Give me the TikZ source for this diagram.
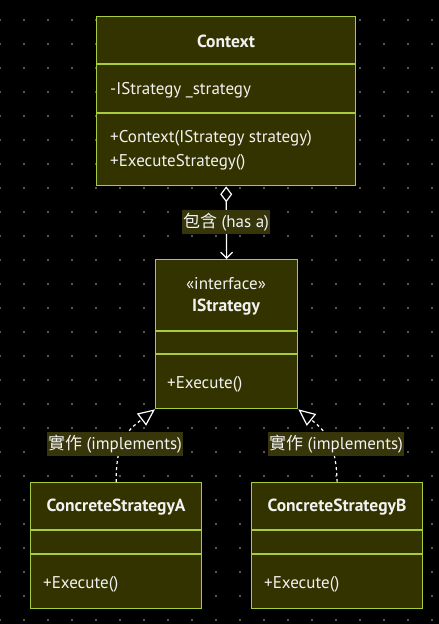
\documentclass[tikz,border=0pt]{standalone}
\usepackage{fontspec}
\setmainfont{PT Sans}
\newfontfamily\cjk{Noto Sans CJK TC}
\usetikzlibrary{arrows.meta}
\definecolor{bgc}{HTML}{000000}
\definecolor{boxc}{HTML}{333300}
\definecolor{bordc}{HTML}{A9CC3C}
\definecolor{lblc}{HTML}{36360A}
\definecolor{dotc}{HTML}{7A7A7A}
\definecolor{txtc}{HTML}{F2F2F2}
\begin{document}
\begin{tikzpicture}[x=1pt,y=-1pt,
  umlbox/.style={draw=bordc, fill=boxc, line width=1.3pt, inner sep=0pt, anchor=north west},
  divider/.style={draw=bordc, line width=1.1pt},
  ttl/.style={text=txtc, font=\fontsize{17.5}{19}\selectfont\bfseries, inner sep=0pt},
  mem/.style={text=txtc, font=\fontsize{17}{19}\selectfont, inner sep=0pt, anchor=west},
  stereo/.style={text=txtc, font=\fontsize{17}{19}\selectfont, inner sep=0pt},
  lbl/.style={fill=lblc, text=txtc, font=\fontsize{17}{19}\selectfont, inner xsep=1pt, inner ysep=3pt},
  conn/.style={draw=white, line width=1.2pt},
  dconn/.style={draw=white, line width=1.2pt, dash pattern=on 3pt off 3pt}
]
\fill[bgc] (0,0) rectangle (439,624);
\useasboundingbox (0,0) rectangle (439,624);
\foreach \i in {0,24,...,432}{
  \foreach \j in {20,44,...,620}{
    \fill[dotc] (\i,\j) circle (1.2pt);
  }
}
% Context
\node[umlbox, minimum width=259pt, minimum height=169pt] (ctx) at (96,16) {};
\draw[divider] (96,64) -- (355,64);
\draw[divider] (96,113) -- (355,113);
\node[ttl] (ctxt) at (226,41) {Context};
\node[mem] (ctxa) at (110,90) {-IStrategy \_strategy};
\node[mem] (ctxm1) at (110,138) {+Context(IStrategy strategy)};
\node[mem] (ctxm2) at (110,162) {+ExecuteStrategy()};
% IStrategy
\node[umlbox, minimum width=142pt, minimum height=149pt] (is) at (155,259) {};
\draw[divider] (155,331) -- (297,331);
\draw[divider] (155,354) -- (297,354);
\node[stereo] (ist) at (226,284) {«interface»};
\node[ttl] (isn) at (226,307) {IStrategy};
\node[mem] (ism) at (167,384) {+Execute()};
% A
\node[umlbox, minimum width=171pt, minimum height=126pt] (ca) at (30,482) {};
\draw[divider] (30,530) -- (201,530);
\draw[divider] (30,554) -- (201,554);
\node[ttl] (cat) at (116,507) {ConcreteStrategyA};
\node[mem] (cam) at (43,584) {+Execute()};
% B
\node[umlbox, minimum width=171pt, minimum height=126pt] (cb) at (251,482) {};
\draw[divider] (251,530) -- (422,530);
\draw[divider] (251,554) -- (422,554);
\node[ttl] (cbt) at (337,507) {ConcreteStrategyB};
\node[mem] (cbm) at (264,584) {+Execute()};
% connectors
\draw[conn, {Diamond[open, length=16pt, width=12pt, line width=1.2pt]}-{Straight Barb[length=6pt, width=12pt, line width=1.2pt]}] (ctx.south) -- (is.north);
\draw[dconn, -{Triangle[open, length=17pt, width=15pt, line width=1.2pt]}] (ca.north) .. controls (116,440) and (128,430) .. (is.south west);
\draw[dconn, -{Triangle[open, length=17pt, width=15pt, line width=1.2pt]}] (cb.north) .. controls (336,440) and (324,430) .. (is.south east);
% labels
\node[lbl] (hasa) at (226,222) {{\cjk 包含} (has a)};
\node[lbl] (impa) at (115,444) {{\cjk 實作} (implements)};
\node[lbl] (impb) at (336,444) {{\cjk 實作} (implements)};
\end{tikzpicture}
\end{document}
